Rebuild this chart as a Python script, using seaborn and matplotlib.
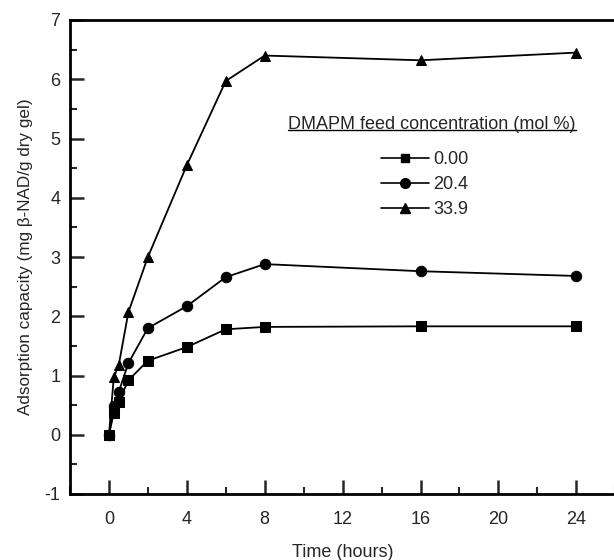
import matplotlib
matplotlib.use("Agg")
import matplotlib.pyplot as plt
import seaborn as sns
import pandas as pd
from matplotlib.ticker import MultipleLocator
from matplotlib.lines import Line2D

sns.set_style("ticks")
plt.rcParams['font.family'] = ['Liberation Sans', 'DejaVu Sans']
plt.rcParams['axes.unicode_minus'] = False

time_h = [0, 0.25, 0.5, 1, 2, 4, 6, 8, 16, 24]
conc_000 = [0.0, 0.37, 0.56, 0.92, 1.25, 1.48, 1.78, 1.82, 1.83, 1.83]
conc_204 = [0.0, 0.48, 0.72, 1.21, 1.80, 2.17, 2.66, 2.88, 2.76, 2.68]
conc_339 = [0.0, 0.97, 1.17, 2.07, 3.00, 4.55, 5.97, 6.40, 6.32, 6.45]
series_labels = ["0.00", "20.4", "33.9"]

rows = []
for lab, vals in zip(series_labels, [conc_000, conc_204, conc_339]):
    for t, v in zip(time_h, vals):
        rows.append({"Time": t, "Capacity": v, "Series": lab})
df = pd.DataFrame(rows)

fig = plt.figure(figsize=(6.14, 5.6), dpi=100)
ax = fig.add_axes([70/614, 1-494/560, 1-70/614 + 0.002, (494-20)/560])

sns.lineplot(data=df, x="Time", y="Capacity", hue="Series", style="Series",
             palette=["black"]*3, markers=["s", "o", "^"], dashes=False,
             markersize=7.5, linewidth=1.3, markeredgecolor="black", ax=ax,
             legend=False)

ax.set_xlim(-2, 26)
ax.set_ylim(-1, 7)
ax.xaxis.set_minor_locator(MultipleLocator(2))
ax.yaxis.set_major_locator(MultipleLocator(1))
ax.yaxis.set_minor_locator(MultipleLocator(0.5))
ax.set_xticks([0, 4, 8, 12, 16, 20, 24])
ax.tick_params(which="major", direction="in", length=10, width=1.8, labelsize=13)
ax.tick_params(axis="x", which="major", pad=12)
ax.tick_params(axis="y", which="major", pad=7)
ax.tick_params(which="minor", direction="in", length=5, width=1.5)
ax.tick_params(axis="x", which="both", top=False)
ax.tick_params(axis="y", which="both", right=False)
for s in ["left", "top", "bottom"]:
    ax.spines[s].set_linewidth(2)
    ax.spines[s].set_color("black")
ax.spines["right"].set_visible(False)

ax.set_xlabel("Time (hours)", fontsize=13, labelpad=12)
ax.set_ylabel("Adsorption capacity (mg β-NAD/g dry gel)", fontsize=12.3, labelpad=8)

# legend
handles = [Line2D([], [], color="black", marker=m, markersize=m_s, linewidth=1.2)
           for m, m_s in zip(["s", "o", "^"], [6, 7, 7.5])]
leg = ax.legend(handles, series_labels, loc="upper left", bbox_to_anchor=(0.553, 0.743),
                frameon=False, fontsize=13, handlelength=2.67, handletextpad=0.25,
                labelspacing=0.45, borderpad=0)

title = ax.text(0.4007, 0.770, "DMAPM feed concentration (mol %)", transform=ax.transAxes,
                fontsize=13, ha="left", va="baseline")
fig.canvas.draw()
bb = title.get_window_extent().transformed(ax.transAxes.inverted())
ax.add_line(Line2D([bb.x0, bb.x1], [bb.y0 + 0.006, bb.y0 + 0.006], transform=ax.transAxes,
                   color="black", linewidth=1.0, clip_on=False))

fig.savefig("out.png", dpi=100)
